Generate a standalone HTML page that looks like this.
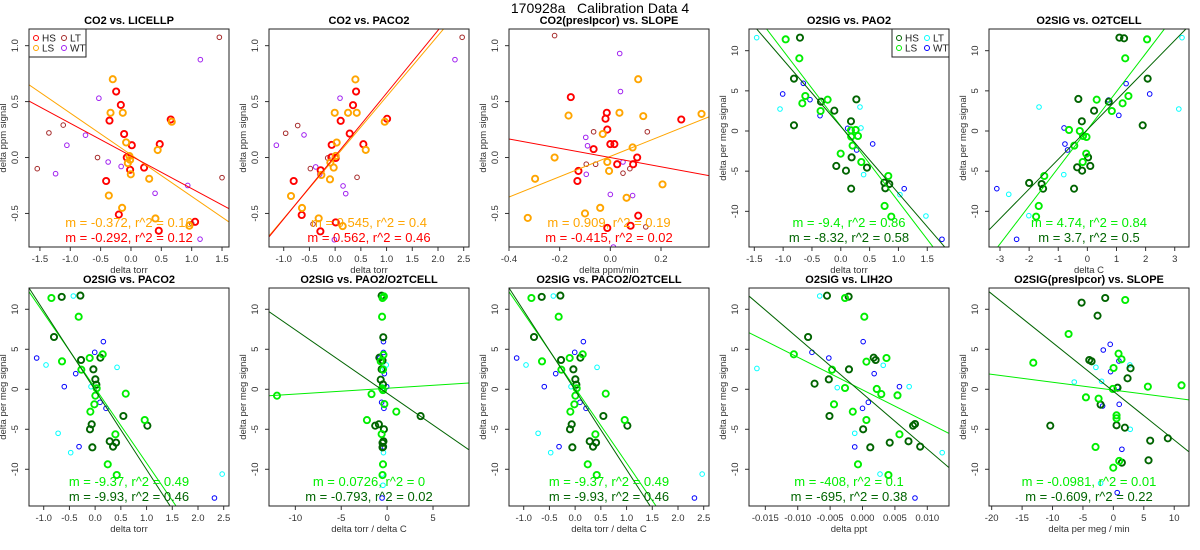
<!DOCTYPE html>
<html><head><meta charset="utf-8"><title>170928a Calibration Data 4</title>
<style>
html,body{margin:0;padding:0;background:#fff;width:1200px;height:550px;overflow:hidden;}
svg{display:block;font-family:"Liberation Sans",Arial,sans-serif;}
</style></head>
<body>
<svg id="chart" width="1200" height="550" viewBox="0 0 1200 550" xmlns="http://www.w3.org/2000/svg">
<text x="600" y="13" text-anchor="middle" font-size="14" fill="#000">170928a&#160;&#160;&#160;Calibration Data 4</text>
</svg>
<script>
// ---------- Data ----------
const p1HS=[[-0.244,0.59],[-0.167,0.47],[-0.354,0.33],[-0.113,0.21],[0.014,0.11],[-0.069,0.0],[-0.014,-0.11],[0.216,-0.09],[-0.409,-0.21],[-0.2,-0.51],[0.458,-0.655],[1.056,-0.575],[0.655,0.34],[0.474,0.12]];
const p1LS=[[-0.30,0.70],[-0.337,0.40],[-0.135,0.40],[-0.08,0.135],[-0.025,0.013],[-0.052,-0.05],[-0.003,-0.15],[0.30,-0.19],[-0.365,-0.34],[-0.146,-0.45],[0.403,-0.545],[0.962,-0.61],[0.44,0.067],[0.672,0.32],[-0.014,-0.02]];
const p1LT=[[1.456,1.075],[-1.544,-0.10],[-1.352,0.22],[-1.116,0.29],[-0.551,0.0],[1.5,-0.18],[1.0,-0.59]];
const p1WT=[[1.143,0.875],[-0.529,0.53],[-0.749,0.20],[-1.056,0.11],[-1.242,-0.145],[-0.376,-0.04],[-0.162,-0.08],[0.397,-0.32],[0.935,-0.25],[1.138,-0.73]];
const p2HS=[[0.407,0.59],[0.348,0.468],[0.108,0.328],[0.283,0.214],[-0.067,0.113],[0.549,0.119],[1.01,0.346],[-0.073,0.002],[0.011,-0.004],[-0.281,-0.114],[-0.806,-0.21],[-0.65,-0.514],[0.011,-0.58],[-0.287,-0.66]];
const p2LS=[[0.394,0.698],[-0.008,0.40],[0.251,0.40],[0.42,0.40],[0.964,0.32],[0.03,0.134],[0.595,0.068],[0.011,0.014],[-0.093,-0.045],[-0.028,-0.09],[-0.268,-0.156],[-0.1,-0.195],[-0.858,-0.344],[-0.644,-0.451],[-0.32,-0.544],[0.147,-0.613]];
const p2LT=[[-0.728,0.286],[-0.962,0.217],[-0.482,-0.099],[0.426,-0.177],[-0.145,-0.004],[-0.43,-0.595],[2.47,1.075]];
const p2WT=[[0.095,0.531],[-0.605,0.202],[-1.143,0.11],[-0.378,-0.084],[-0.3,-0.15],[0.154,-0.254],[0.206,-0.323],[-0.015,-0.735],[2.33,0.875]];
const p3HS=[[-0.156,0.54],[-0.014,0.40],[-0.019,0.347],[-0.012,0.25],[0.0,0.12],[0.016,0.12],[-0.066,0.075],[0.106,0.0],[0.027,-0.06],[0.09,-0.06],[-0.126,-0.12],[-0.13,-0.21],[0.28,0.34],[0.11,-0.52],[0.08,-0.61],[-0.012,-0.63]];
const p3LS=[[0.11,0.70],[0.036,0.40],[0.13,0.37],[-0.165,0.375],[0.36,0.39],[-0.03,0.21],[0.088,0.09],[-0.22,0.0],[-0.012,-0.04],[-0.005,-0.12],[-0.297,-0.19],[0.206,-0.24],[0.064,-0.36],[-0.04,-0.45],[-0.1,-0.5],[-0.326,-0.54]];
const p3LT=[[-0.22,1.09],[-0.066,0.23],[0.146,0.23],[-0.095,-0.06],[0.05,-0.14],[0.077,-0.1],[-0.058,-0.06],[0.14,-0.62]];
const p3WT=[[0.037,0.93],[0.04,0.59],[-0.097,0.18],[-0.09,0.105],[-0.095,-0.15],[0.05,-0.04],[0.0,-0.33],[0.088,-0.34],[0.012,-0.80]];
const p4HS=[[-0.708,11.62],[-0.812,6.52],[-0.812,0.71],[-0.343,3.65],[-0.112,2.53],[0.27,3.94],[0.177,1.21],[0.188,-3.28],[-0.078,-4.35],[0.09,-4.94],[0.18,-7.18],[0.454,-4.56],[0.755,-6.43],[0.772,-7.13],[0.841,-6.6]];
const p4LS=[[-0.956,11.41],[-0.719,9.05],[-0.615,4.36],[-0.667,3.45],[-0.228,3.9],[-0.35,2.49],[0.177,0.09],[0.258,0.13],[0.18,-0.7],[0.298,-0.62],[0.205,-1.82],[-0.002,-2.82],[0.356,-3.86],[0.824,-5.6],[0.76,-9.33],[0.876,-10.66]];
const p4LT=[[-1.459,11.62],[-1.054,2.74],[0.333,2.99],[0.35,0.38],[0.396,-5.43],[1.026,-7.92],[1.477,-10.58]];
const p4WT=[[-1.008,4.61],[-0.65,5.94],[-0.534,3.9],[-0.36,1.91],[0.119,0.33],[0.275,-2.36],[0.553,-1.61],[1.1,-7.18],[1.755,-13.48]];
const p5HS=[[1.1,11.62],[1.26,11.54],[2.07,6.52],[1.9,0.71],[-0.31,3.99],[0.735,3.65],[0.23,2.53],[-0.19,1.21],[0.024,-3.28],[0.1,-4.35],[-0.35,-4.52],[-0.18,-4.94],[-0.457,-7.18],[-2.0,-6.47],[-1.57,-6.6],[-1.52,-7.18]];
const p5LS=[[2.05,11.41],[1.3,9.05],[1.41,4.36],[1.21,3.45],[0.32,3.9],[0.84,2.49],[-0.63,0.13],[-0.26,0.0],[-0.15,-0.62],[-0.03,-0.74],[-0.45,-1.82],[-0.04,-2.82],[-0.16,-3.86],[-1.48,-5.6],[-1.67,-9.33],[-1.76,-10.66]];
const p5LT=[[3.25,11.62],[-1.66,2.99],[3.14,2.74],[-0.81,-5.43],[-2.70,-7.88],[-2.01,-10.54]];
const p5WT=[[1.33,5.9],[2.14,4.61],[0.73,3.86],[1.08,1.95],[-0.8,0.38],[-0.77,-1.62],[-0.68,-2.36],[-3.11,-7.18],[-2.43,-13.48]];
const p6HS=[[-0.65,11.55],[-0.287,11.71],[-0.8,6.535],[-0.274,3.66],[0.102,3.95],[-0.034,2.49],[0.004,1.24],[0.024,0.58],[0.549,-3.34],[1.016,-4.55],[-0.067,-4.38],[-0.1,-5.0],[-0.054,-7.26],[0.283,-6.5],[0.407,-6.67],[0.348,-7.17]];
const p6LS=[[-0.85,11.41],[-0.32,9.07],[0.147,4.37],[-0.106,3.91],[-0.644,3.49],[-0.268,2.45],[0.03,0.12],[0.004,-0.8],[0.595,-0.55],[-0.015,-1.88],[-0.093,-2.8],[0.394,-5.63],[0.964,-3.84],[0.245,-9.38],[0.42,-10.72]];
const p6LT=[[-0.424,11.66],[-0.955,3.04],[0.426,2.74],[-0.08,0.33],[-0.72,-5.5],[-0.475,-7.92],[2.47,-10.6]];
const p6WT=[[-1.137,3.91],[0.16,5.95],[-0.008,4.62],[-0.378,1.95],[-0.6,0.33],[0.095,-1.63],[0.212,-2.38],[-0.313,-7.17],[2.32,-13.59]];
const p7HS=[[-0.6,11.7],[-0.42,6.5],[-0.85,3.95],[-0.5,3.6],[-0.6,2.5],[-0.7,1.2],[-0.45,0.6],[3.65,-3.35],[-1.3,-4.55],[-0.9,-4.38],[-0.35,-5.0],[-0.4,-6.5],[-0.5,-6.7],[-0.45,-7.2],[-0.5,-7.26]];
const p7LS=[[-0.5,11.41],[-0.35,11.6],[-0.55,9.07],[-0.4,4.3],[-0.7,3.5],[-0.45,2.45],[-0.55,0.1],[-0.45,-0.1],[-12.0,-0.8],[-1.7,-0.6],[-0.3,-1.85],[1.0,-2.8],[-2.2,-3.85],[-0.6,-5.6],[-0.45,-9.38],[-0.5,-10.72]];
const p7LT=[[-0.5,11.66],[-0.1,3.04],[-0.3,2.6],[-0.55,0.3],[-0.4,-7.92],[-0.55,-10.6],[-0.45,-12.0]];
const p7WT=[[-0.4,5.95],[-0.4,4.6],[-0.8,3.9],[-0.3,1.95],[-0.05,0.33],[-0.6,-1.63],[-0.35,-2.38],[-0.3,-7.2],[-0.55,-13.59]];
const p9HS=[[-0.00548,11.7],[-0.00214,11.58],[-0.0084,6.535],[0.00172,3.95],[0.00203,3.66],[-0.00209,2.49],[-0.0052,1.24],[-0.0074,0.7],[-0.0051,-3.34],[0.0001,-5.0],[0.0078,-4.55],[0.0081,-4.34],[0.0012,-7.26],[0.0042,-6.67],[0.0071,-6.5],[0.0089,-7.17]];
const p9LS=[[-0.0027,11.41],[0.00028,9.07],[-0.0106,4.37],[0.0006,3.45],[0.0037,3.91],[-0.0047,2.45],[-0.0027,0.16],[0.0022,0.04],[0.0029,-0.6],[0.0054,-0.76],[-0.0044,-1.88],[-0.0015,-2.8],[0.0006,-3.84],[0.0057,-5.63],[-0.0007,-9.38],[0.004,-10.72]];
const p9LT=[[-0.0066,11.66],[-0.0163,2.6],[0.0032,3.0],[0.0072,0.33],[-0.0012,-5.5],[0.0123,-7.92],[0.0027,-10.6],[-0.0039,0.2]];
const p9WT=[[0.0001,5.95],[-0.0078,4.62],[-0.0052,3.91],[0.0018,1.95],[0.0057,0.33],[0.0009,-1.63],[0.0,-2.38],[-0.0012,-7.2],[0.0081,-13.59]];
const p10HS=[[-5.22,10.83],[-1.34,11.41],[-2.6,9.2],[-3.96,3.66],[-3.58,3.5],[2.82,2.62],[2.33,1.37],[0.69,0.2],[-2.1,-1.92],[-10.37,-4.55],[0.52,-4.5],[1.89,-4.8],[6.05,-6.42],[8.95,-6.13],[5.78,-8.88],[1.4,-9.17]];
const p10LS=[[1.95,11.16],[-7.36,6.91],[-13.16,3.32],[0.85,4.45],[1.34,3.75],[0.03,2.66],[-0.08,0.04],[5.67,0.33],[11.2,0.49],[-4.51,-1.01],[-2.43,-1.17],[0.52,-3.26],[0.52,-3.63],[-2.93,-7.21],[0.96,-8.96],[-0.02,-9.8]];
const p10LT=[[2.71,3.04],[-2.87,2.74],[-6.43,0.91],[-1.94,1.0],[2.77,-5.0],[-2.1,-11.75]];
const p10WT=[[-0.52,5.62],[-1.66,4.91],[-0.46,2.2],[0.91,3.54],[0.69,0.25],[-1.77,-2.09],[0.96,-1.88],[1.4,-7.5],[0.63,-12.92]];
const fitSlopes=[[-0.372,-0.292],[0.545,0.562],[0.909,-0.415],[-9.4,-8.32],[4.74,3.7],[-9.37,-9.93],[0.0726,-0.793],[-9.37,-9.93],[-408,-695],[-0.0981,-0.609]];
const fitIntercepts=[[0.025,0.014],[0.0,0.013],[0.01,0.0],[0.61,0.56],[0.16,0.18],[0.15,-0.11],[0.13,-0.5],[0.15,-0.11],[-0.07,-0.52],[-0.1,-0.25]];
const fitLabels=[["m = -0.372, r^2 = 0.16","m = -0.292, r^2 = 0.12"],["m = 0.545, r^2 = 0.4","m = 0.562, r^2 = 0.46"],["m = 0.909, r^2 = 0.19","m = -0.415, r^2 = 0.02"],["m = -9.4, r^2 = 0.86","m = -8.32, r^2 = 0.58"],["m = 4.74, r^2 = 0.84","m = 3.7, r^2 = 0.5"],["m = -9.37, r^2 = 0.49","m = -9.93, r^2 = 0.46"],["m = 0.0726, r^2 = 0","m = -0.793, r^2 = 0.02"],["m = -9.37, r^2 = 0.49","m = -9.93, r^2 = 0.46"],["m = -408, r^2 = 0.1","m = -695, r^2 = 0.38"],["m = -0.0981, r^2 = 0.01","m = -0.609, r^2 = 0.22"]];
const panelTitles=["CO2 vs. LICELLP","CO2 vs. PACO2","CO2(presIpcor) vs. SLOPE","O2SIG vs. PAO2","O2SIG vs. O2TCELL","O2SIG vs. PACO2","O2SIG vs. PAO2/O2TCELL","O2SIG vs. PACO2/O2TCELL","O2SIG vs. LIH2O","O2SIG(presIpcor) vs. SLOPE"];
const xLabels=["delta torr","delta torr","delta ppm/min","delta torr","delta C","delta torr","delta torr / delta C","delta torr / delta C","delta ppt","delta per meg / min"];
const co2YTicks=[-0.5,0,0.5,1.0];
const co2YTickLabels=["-0.5","0.0","0.5","1.0"];
const o2YTicks=[-10,-5,0,5,10];
const o2YTickLabels=["-10","-5","0","5","10"];
const xTicks=[[-1.5,-1,-0.5,0,0.5,1,1.5],[-1,-0.5,0,0.5,1,1.5,2,2.5],[-0.4,-0.2,0,0.2],[-1.5,-1,-0.5,0,0.5,1,1.5],[-3,-2,-1,0,1,2,3],[-1,-0.5,0,0.5,1,1.5,2,2.5],[-10,-5,0,5],[-1,-0.5,0,0.5,1,1.5,2,2.5],[-0.015,-0.01,-0.005,0,0.005,0.01],[-20,-15,-10,-5,0,5,10]];
const xTickLabels=[["-1.5","-1.0","-0.5","0.0","0.5","1.0","1.5"],["-1.0","-0.5","0.0","0.5","1.0","1.5","2.0","2.5"],["-0.4","-0.2","0.0","0.2"],["-1.5","-1.0","-0.5","0.0","0.5","1.0","1.5"],["-3","-2","-1","0","1","2","3"],["-1.0","-0.5","0.0","0.5","1.0","1.5","2.0","2.5"],["-10","-5","0","5"],["-1.0","-0.5","0.0","0.5","1.0","1.5","2.0","2.5"],["-0.015","-0.010","-0.005","0.000","0.005","0.010"],["-20","-15","-10","-5","0","5","10"]];
const seriesNames=["HS","LS","LT","WT"];

// ---------- Layout / style (not data) ----------
const xLims=[[-1.68,1.615],[-1.286,2.603],[-0.4,0.3895],[-1.592,1.877],[-3.378,3.49],[-1.286,2.603],[-12.87,8.92],[-1.286,2.603],[-0.01752,0.01335],[-20.44,12.43]];
const co2YLim=[-0.80,1.149], o2TopYLim=[-14.44,12.70], o2BotYLim=[-14.59,12.66];
const co2Colors={HS:"#FF0000",LS:"#FFA500",LT:"#A52A2A",WT:"#A020F0"};
const o2Colors={HS:"#006400",LS:"#00EE00",LT:"#00FFFF",WT:"#0000FF"};
const panelData=[[p1HS,p1LS,p1LT,p1WT],[p2HS,p2LS,p2LT,p2WT],[p3HS,p3LS,p3LT,p3WT],[p4HS,p4LS,p4LT,p4WT],[p5HS,p5LS,p5LT,p5WT],[p6HS,p6LS,p6LT,p6WT],[p7HS,p7LS,p7LT,p7WT],[p6HS,p6LS,p6LT,p6WT],[p9HS,p9LS,p9LT,p9WT],[p10HS,p10LS,p10LT,p10WT]];

const NS="http://www.w3.org/2000/svg";
const svg=document.getElementById('chart');
function mk(tag,attrs,parent){const e=document.createElementNS(NS,tag);for(const k in attrs)e.setAttribute(k,attrs[k]);(parent||svg).appendChild(e);return e;}

for(let i=0;i<10;i++){
  const col=i%5,row=Math.floor(i/5);
  const L=29+240*col,R=L+200,T=row?288:29,B=row?506:247;
  const isCO2=i<3;
  const xl=xLims[i], yl=isCO2?co2YLim:(row?o2BotYLim:o2TopYLim);
  const colors=isCO2?co2Colors:o2Colors;
  const sx=v=>L+(v-xl[0])/(xl[1]-xl[0])*(R-L);
  const sy=v=>B-(v-yl[0])/(yl[1]-yl[0])*(B-T);
  const g=mk('g',{});
  
  
  const cp=mk('clipPath',{id:'clip'+i},g);
  mk('rect',{x:L,y:T,width:R-L,height:B-T},cp);
  const t=mk('text',{x:(L+R)/2,y:T-5,'text-anchor':'middle','font-size':11,'font-weight':'bold',fill:'#000'},g);
  t.textContent=panelTitles[i];
  
  
  const xt=xTicks[i];
  const ax=mk('line',{x1:sx(xt[0]),x2:sx(xt[xt.length-1]),y1:B,y2:B,stroke:'#333','stroke-width':1},g);
  
  
  xt.forEach((v,k)=>{
    mk('line',{x1:sx(v),x2:sx(v),y1:B,y2:B+4,stroke:'#333','stroke-width':1},g);
    const tl=mk('text',{x:sx(v),y:B+15,'text-anchor':'middle','font-size':9.5,fill:'#333'},g);
    tl.textContent=xTickLabels[i][k];
    
    
  });
  const xlab=mk('text',{x:(L+R)/2,y:B+26,'text-anchor':'middle','font-size':9.5,fill:'#333'},g);
  xlab.textContent=xLabels[i];
  
  
  const yt=isCO2?co2YTicks:o2YTicks, ytl=isCO2?co2YTickLabels:o2YTickLabels;
  yt.forEach((v,k)=>{
    mk('line',{x1:L-4,x2:L,y1:sy(v),y2:sy(v),stroke:'#333','stroke-width':1},g);
    const tl=mk('text',{x:L-11,y:sy(v),'text-anchor':'middle','font-size':9.5,fill:'#333',transform:`rotate(-90 ${L-11} ${sy(v)})`},g);
    tl.textContent=ytl[k];
    
    
  });
  const yx=L-23, ymid=(T+B)/2;
  const ylab=mk('text',{x:yx,y:ymid,'text-anchor':'middle','font-size':9.5,fill:'#333',transform:`rotate(-90 ${yx} ${ymid})`},g);
  ylab.textContent=isCO2?'delta ppm signal':'delta per meg signal';
  
  
  const pg=mk('g',{'clip-path':`url(#clip${i})`},g);
  [2,3,0,1].forEach(si=>{
    const name=seriesNames[si], thick=si<2;
    panelData[i][si].forEach(p=>{
      const c=mk('circle',{cx:sx(p[0]),cy:sy(p[1]),r:thick?3.1:2.3,fill:'none',stroke:colors[name],'stroke-width':thick?1.9:1},pg);
      
      
    });
  });
  [0,1].forEach(li=>{
    const m=fitSlopes[i][li], b=fitIntercepts[i][li];
    const ln=mk('line',{x1:sx(xl[0]),y1:sy(b+m*xl[0]),x2:sx(xl[1]),y2:sy(b+m*xl[1]),stroke:li?colors.HS:colors.LS,'stroke-width':1},pg);
    
    
  });
  [0,1].forEach(li=>{
    const tx=mk('text',{x:(L+R)/2,y:T+198+li*15,'text-anchor':'middle','font-size':13,fill:li?colors.HS:colors.LS},g);
    tx.textContent=fitLabels[i][li];
    
    
  });
  const bx=mk('rect',{x:L,y:T,width:R-L,height:B-T,fill:'none',stroke:'#222','stroke-width':1},g);
  
  
  if(i===0||i===3){
    const lx=i===0?L:R-57;
    const lg=mk('g',{},g);
    
    
    mk('rect',{x:lx,y:T,width:57,height:28,fill:'#fff',stroke:'#222','stroke-width':1},lg);
    const pos=[[0,0],[0,1],[1,0],[1,1]];
    seriesNames.forEach((n,k)=>{
      const ex=lx+7+pos[k][0]*28, ey=T+9+pos[k][1]*10;
      const e=mk('g',{},lg);
      
      
      mk('circle',{cx:ex,cy:ey,r:2.5,fill:'none',stroke:colors[n],'stroke-width':1},e);
      const lt=mk('text',{x:ex+6,y:ey+3.5,'font-size':10,fill:'#222'},e);
      lt.textContent=n;
    });
  }
}
</script>
</body></html>
